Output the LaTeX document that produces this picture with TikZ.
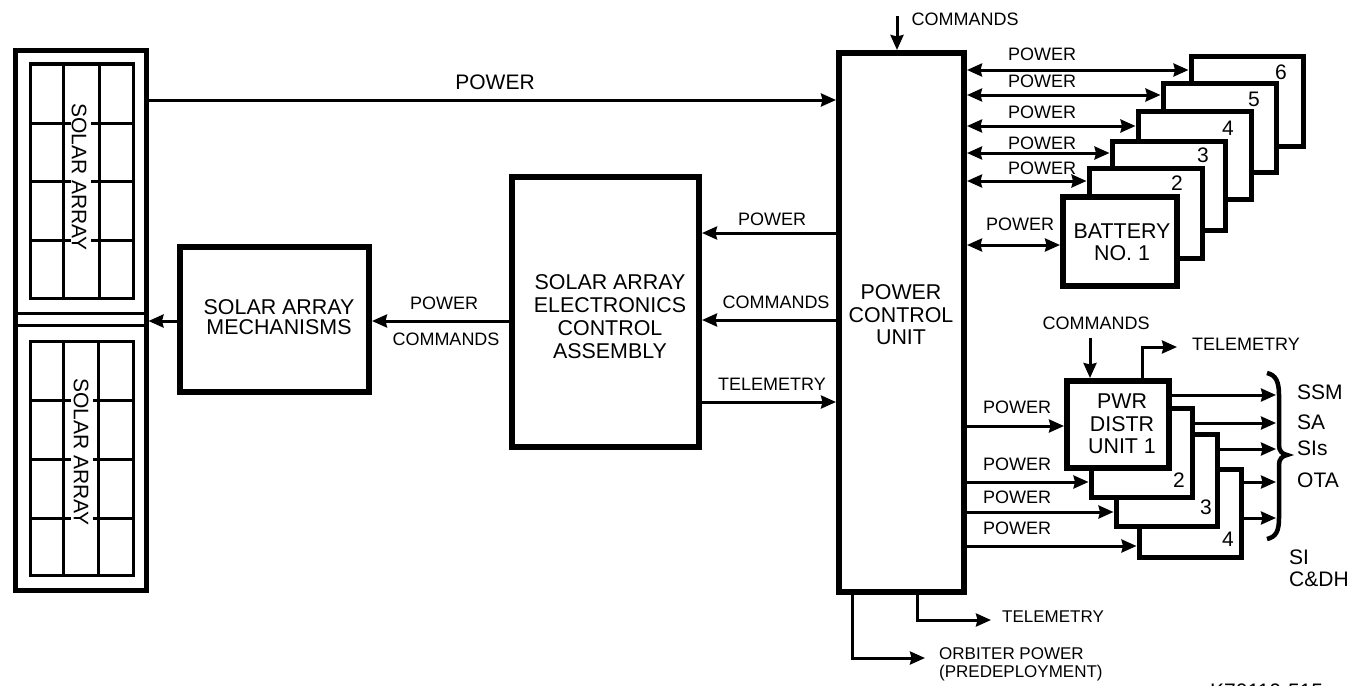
\documentclass[tikz,border=0pt]{standalone}
\usepackage{fontspec}
\setmainfont{Liberation Sans}
\usetikzlibrary{arrows.meta}

\begin{document}
\begin{tikzpicture}[
  x=1pt, y=-1pt,
  heavybox/.style={
    rectangle, draw=black, fill=white, line width=6pt, inner sep=0pt, anchor=north west
  },
  stackbox/.style={
    rectangle, draw=black, fill=white, line width=5pt, inner sep=0pt, anchor=north west
  },
  panelbox/.style={
    rectangle, draw=black, line width=3pt, inner sep=0pt, anchor=north west,
    minimum width=103pt, minimum height=234pt
  },
  boxtxt/.style={font=\fontsize{21.4}{22.5}\selectfont, inner sep=0pt, align=center},
  lbl/.style={font=\fontsize{18}{18}\selectfont, inner sep=0pt, align=left},
  biglbl/.style={font=\fontsize{21}{22}\selectfont, inner sep=0pt, align=left},
  arr/.style={-{Stealth[length=15pt, width=13pt, inset=1.5pt]}, draw=black, line width=3pt},
  dblarr/.style={{Stealth[length=15pt, width=13pt, inset=1.5pt]}-{Stealth[length=15pt, width=13pt, inset=1.5pt]}, draw=black, line width=3pt},
  grid/.style={draw=black, line width=3pt},
]
\useasboundingbox (0,0) rectangle (1364,685);

% Solar array frame and its two panels
\node[heavybox, line width=5pt, minimum width=131pt, minimum height=539pt] (frame) at (12.5,48.5) {};
\coordinate (hingeA) at (0,313);
\coordinate (hingeB) at (0,325);
\draw[grid] (frame.west |- hingeA) -- (frame.east |- hingeA);
\draw[grid] (frame.west |- hingeB) -- (frame.east |- hingeB);

\node[panelbox] (panelA) at (28.5,62.5) {};
\node[panelbox] (panelB) at (28.5,339.5) {};

% Panel A grid, rows stop short of the text
\draw[grid] (63,64) -- (63,298);
\draw[grid] (99,64) -- (99,298);
\draw[grid] (30,123) -- (71,123);
\draw[grid] (91,123) -- (133,123);
\draw[grid] (30,181) -- (71,181);
\draw[grid] (91,181) -- (133,181);
\draw[grid] (30,240) -- (71,240);
\draw[grid] (91,240) -- (133,240);
\node[biglbl, rotate=-90] (saA) at (79,177) {SOLAR ARRAY};

% Panel B grid
\draw[grid] (63,341) -- (63,575);
\draw[grid] (98,341) -- (98,575);
\draw[grid] (30,400) -- (71,400);
\draw[grid] (93,400) -- (133,400);
\draw[grid] (30,459) -- (71,459);
\draw[grid] (93,459) -- (133,459);
\draw[grid] (30,518) -- (71,518);
\draw[grid] (93,518) -- (133,518);
\node[biglbl, rotate=-90] (saB) at (81,452) {SOLAR ARRAY};

% Main chain of boxes
\node[heavybox, minimum width=189pt, minimum height=145pt] (sam) at (177,244) {};
\node[boxtxt, font=\fontsize{21.4}{20.5}\selectfont] (samtxt) at (279,317) {SOLAR ARRAY\\MECHANISMS};
\node[heavybox, minimum width=187pt, minimum height=270pt] (eca) at (509,174) {};
\node[boxtxt, font=\fontsize{21.4}{23}\selectfont] (ecatxt) at (610,317) {SOLAR ARRAY\\ELECTRONICS\\CONTROL\\ASSEMBLY};
\node[heavybox, minimum width=125pt, minimum height=539pt] (pcu) at (836,50) {};
\node[boxtxt] (pcutxt) at (901,315) {POWER\\CONTROL\\UNIT};

% Rows shared by the horizontal connectors
\coordinate (rowMain) at (0,100);
\coordinate (rowP) at (0,233);
\coordinate (rowC) at (0,320);
\coordinate (rowT) at (0,402);
\coordinate (rowSam) at (0,321);

\draw[arr] (frame.east |- rowMain) -- (pcu.west |- rowMain);
\node[biglbl] (lblMain) at (495,82) {POWER};
\draw[arr] (eca.west |- rowSam) -- (sam.east |- rowSam);
\draw[arr] (sam.west |- rowSam) -- (frame.east |- rowSam);
\node[lbl] (lblSamP) at (444,303) {POWER};
\node[lbl] (lblSamC) at (446,339) {COMMANDS};

\draw[arr] (pcu.west |- rowP) -- (eca.east |- rowP);
\draw[arr] (pcu.west |- rowC) -- (eca.east |- rowC);
\draw[arr] (eca.east |- rowT) -- (pcu.west |- rowT);
\node[lbl] (lblEcaP) at (772,219) {POWER};
\node[lbl] (lblEcaC) at (776,302) {COMMANDS};
\node[lbl] (lblEcaT) at (772,384) {TELEMETRY};

% Commands into the control unit
\coordinate (cmdTop) at (897,16);
\draw[arr] (cmdTop) -- (pcu.north -| cmdTop);
\node[lbl] (lblCmd) at (965,19) {COMMANDS};

% Batteries, back to front
\node[stackbox, minimum width=112pt, minimum height=89pt] (bat6) at (1188.5,54.5) {};
\node[stackbox, minimum width=113pt, minimum height=89pt] (bat5) at (1160.5,80.5) {};
\node[stackbox, minimum width=113pt, minimum height=88pt] (bat4) at (1135.5,108.5) {};
\node[stackbox, minimum width=113pt, minimum height=89pt] (bat3) at (1109.5,138.5) {};
\node[stackbox, minimum width=113pt, minimum height=90pt] (bat2) at (1086.5,165.5) {};
\node[heavybox, minimum width=114pt, minimum height=89pt] (bat1) at (1060,194) {};
\node[boxtxt] (battxt) at (1122,242) {BATTERY\\NO. 1};
\node[biglbl] (num6) at (1281,72) {6};
\node[biglbl] (num5) at (1254,99) {5};
\node[biglbl] (num4) at (1228,128) {4};
\node[biglbl] (num3) at (1203,155) {3};
\node[biglbl] (num2) at (1177,183) {2};

\coordinate (rowB6) at (0,70);
\coordinate (rowB5) at (0,95);
\coordinate (rowB4) at (0,126);
\coordinate (rowB3) at (0,153);
\coordinate (rowB2) at (0,181);
\coordinate (rowB1) at (0,245);
\draw[dblarr] (pcu.east |- rowB6) -- (bat6.west |- rowB6);
\draw[dblarr] (pcu.east |- rowB5) -- (bat5.west |- rowB5);
\draw[dblarr] (pcu.east |- rowB4) -- (bat4.west |- rowB4);
\draw[dblarr] (pcu.east |- rowB3) -- (bat3.west |- rowB3);
\draw[dblarr] (pcu.east |- rowB2) -- (bat2.west |- rowB2);
\draw[dblarr] (pcu.east |- rowB1) -- (bat1.west |- rowB1);
\node[lbl] (lblB6) at (1042,54) {POWER};
\node[lbl] (lblB5) at (1042,81) {POWER};
\node[lbl] (lblB4) at (1042,112) {POWER};
\node[lbl] (lblB3) at (1042,143) {POWER};
\node[lbl] (lblB2) at (1042,168) {POWER};
\node[lbl] (lblB1) at (1020,224) {POWER};

% Power distribution units, back to front
\node[stackbox, minimum width=102pt, minimum height=88pt] (pdu4) at (1136.5,466.5) {};
\node[stackbox, minimum width=101pt, minimum height=92pt] (pdu3) at (1113.5,431.5) {};
\node[stackbox, minimum width=101pt, minimum height=89pt] (pdu2) at (1088.5,405.5) {};
\node[heavybox, minimum width=102pt, minimum height=87pt] (pdu1) at (1064,378) {};
\node[boxtxt] (pdutxt) at (1122,424) {PWR\\DISTR\\UNIT 1};
\node[biglbl] (numD2) at (1179,480) {2};
\node[biglbl] (numD3) at (1206,507) {3};
\node[biglbl] (numD4) at (1228,539) {4};

\coordinate (rowD1) at (0,426);
\coordinate (rowD2) at (0,482);
\coordinate (rowD3) at (0,512);
\coordinate (rowD4) at (0,546);
\draw[arr] (pcu.east |- rowD1) -- (pdu1.west |- rowD1);
\draw[arr] (pcu.east |- rowD2) -- (pdu2.west |- rowD2);
\draw[arr] (pcu.east |- rowD3) -- (pdu3.west |- rowD3);
\draw[arr] (pcu.east |- rowD4) -- (pdu4.west |- rowD4);
\node[lbl] (lblD1) at (1017,407) {POWER};
\node[lbl] (lblD2) at (1017,464) {POWER};
\node[lbl] (lblD3) at (1017,497) {POWER};
\node[lbl] (lblD4) at (1017,528) {POWER};

% Commands and telemetry on top of unit 1
\coordinate (cmdD) at (1090,338);
\coordinate (tlmD) at (1177,347);
\coordinate (tlmDx) at (1142,0);
\draw[arr] (cmdD) -- (pdu1.north -| cmdD);
\draw[arr] (pdu1.north -| tlmDx) |- (tlmD);
\node[lbl] (lblCmdD) at (1096,323) {COMMANDS};
\node[lbl] (lblTlmD) at (1246,344) {TELEMETRY};

% Brace and the loads behind it
\draw[draw=black, line width=4.5pt] (1267,373) .. controls (1276,375) and (1279,382) .. (1279,395) -- (1279,445) .. controls (1279,451) and (1282,454) .. (1287,455) .. controls (1282,456) and (1279,459) .. (1279,465) -- (1279,518) .. controls (1279,531) and (1276,537) .. (1267,539);
\coordinate (brc) at (1276,0);
\coordinate (rowL1) at (0,395);
\coordinate (rowL2) at (0,423);
\coordinate (rowL3) at (0,449);
\coordinate (rowL4) at (0,482);
\coordinate (rowL5) at (0,518);
\draw[arr] (pdu1.east |- rowL1) -- (brc |- rowL1);
\draw[arr] (pdu2.east |- rowL2) -- (brc |- rowL2);
\draw[arr] (pdu3.east |- rowL3) -- (brc |- rowL3);
\draw[arr] (pdu4.east |- rowL4) -- (brc |- rowL4);
\draw[arr] (pdu4.east |- rowL5) -- (brc |- rowL5);
\node[biglbl, anchor=west] (ssm) at (1297,392) {SSM};
\node[biglbl, anchor=west] (sa) at (1297,422) {SA};
\node[biglbl, anchor=west] (sis) at (1297,448) {SIs};
\node[biglbl, anchor=west] (ota) at (1297,480) {OTA};
\node[biglbl, anchor=west] (sicdh) at (1289,568) {SI\\C\&DH};

% Outputs under the control unit
\coordinate (tlmPx) at (917,0);
\coordinate (tlmP) at (991,620);
\coordinate (orbx) at (852,0);
\coordinate (orbP) at (925,658);
\draw[arr] (pcu.south -| tlmPx) |- (tlmP);
\draw[arr] (pcu.south -| orbx) |- (orbP);
\node[lbl, font=\fontsize{17}{18}\selectfont, anchor=west] (lblTlmP) at (1002,617) {TELEMETRY};
\node[lbl, font=\fontsize{17}{18}\selectfont, anchor=west] (lblOrb) at (939,664) {ORBITER POWER\\(PREDEPLOYMENT)};

% Figure number, cut by the page edge
\node[biglbl, anchor=base west] (figno) at (1210,698) {K70110-515};
\end{tikzpicture}
\end{document}
